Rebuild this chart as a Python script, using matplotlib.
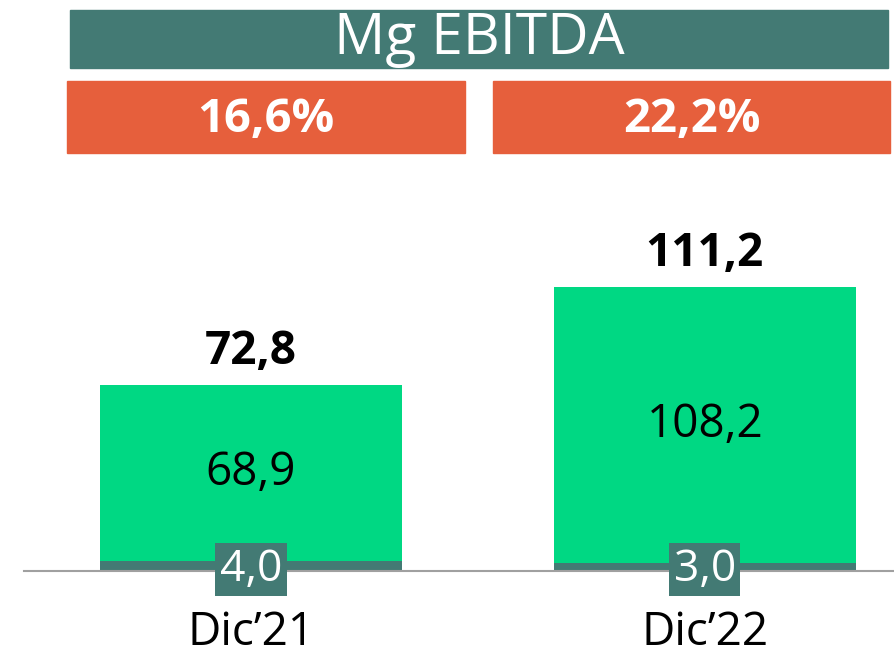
import matplotlib
matplotlib.use("Agg")
import matplotlib.pyplot as plt
from matplotlib.patches import Rectangle

# datos
categorias = ["Dic\u201921", "Dic\u201922"]
base = [4.0, 3.0]
resto = [68.9, 108.2]
totales = [72.8, 111.2]
margen = ["16,6%", "22,2%"]
titulo = "Mg EBITDA"

teal = "#437a74"
naranja = "#e65f3c"
verde = "#00d883"

plt.rcParams['font.family'] = ['Open Sans', 'DejaVu Sans']

W, H = 895, 661
fig = plt.figure(figsize=(W / 100, H / 100), dpi=100)

def fx(px):
    return px / W

def fy(py):
    return 1 - py / H

# cabecera
fig.patches.append(Rectangle((fx(70), fy(68)), fx(818), 58 / H, transform=fig.transFigure,
                             color=teal, zorder=0))
fig.text(fx(479), fy(40), titulo, color="white", fontsize=41, fontweight="normal",
         ha="center", va="center")
for i, (x0, x1) in enumerate([(67, 465), (493, 890)]):
    fig.patches.append(Rectangle((fx(x0), fy(153)), fx(x1 - x0), 72 / H,
                                 transform=fig.transFigure, color=naranja, zorder=0))
    fig.text(fx((x0 + x1) / 2), fy(119), margen[i], color="white", fontsize=34,
             fontweight="bold", ha="center", va="center")

# barras
ax = fig.add_axes([fx(24), 90 / H, fx(871), (571 - 165) / H])
x = [0, 1]
ancho = 0.665
ax.bar(x, base, width=ancho, color=teal, zorder=2)
ax.bar(x, resto, bottom=base, width=ancho, color=verde, zorder=2)
ax.set_xlim(-0.5, 1.419)
ax.set_ylim(0, 159.2)

for i in range(2):
    ax.text(x[i], totales[i] + 4, f"{totales[i]:.1f}".replace(".", ","), ha="center",
            va="bottom", fontsize=33, fontweight="bold", color="black")
    ax.text(x[i], base[i] + resto[i] / 2, f"{resto[i]:.1f}".replace(".", ","), ha="center",
            va="center", fontsize=33, color="black")
    ax.text(x[i], 0.6, f"{base[i]:.1f}".replace(".", ","), ha="center", va="center",
            fontsize=32, color="white", zorder=5, clip_on=False,
            bbox=dict(boxstyle="square,pad=0.1", facecolor=teal, edgecolor="none"))

for s in ["top", "right", "left"]:
    ax.spines[s].set_visible(False)
ax.spines["bottom"].set_color("#a0a0a0")
ax.spines["bottom"].set_linewidth(1.5)
ax.set_yticks([])
ax.set_xticks(x)
ax.set_xticklabels(categorias, fontsize=33)
ax.tick_params(axis="x", length=0, pad=28)

fig.savefig("out.png", dpi=100)
